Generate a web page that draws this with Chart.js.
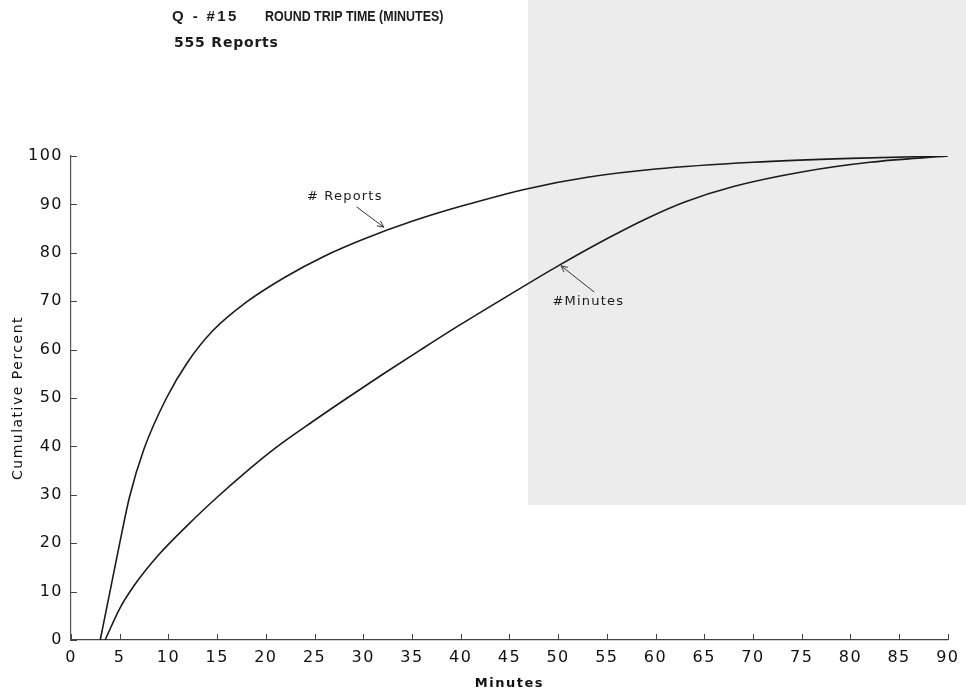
<!DOCTYPE html>
<html>
<head>
<meta charset="utf-8">
<title>Round Trip Time</title>
<script src="https://cdn.jsdelivr.net/npm/chart.js@4.4.0/dist/chart.umd.min.js"></script>
<style>
    html, body { margin: 0; padding: 0; background: #fff; }
    #wrap { position: relative; width: 966px; height: 691px; }
</style>
</head>
<body>
<div id="wrap"><canvas id="trip-chart" width="966" height="691"></canvas></div>
<script>
// values
const chartCode = 'Q - #15';
const chartTitle = 'ROUND TRIP TIME (MINUTES)';
const chartSubtitle = '555 Reports';

const reportsMinutes = [3.0, 4.0, 5.0, 6.0, 7.5, 9.8, 12.0, 14.5, 18.0, 22.0, 26.0, 30.0, 35.0, 40.0, 47.0, 53.0, 60.0, 70.0, 80.0, 90.0];
const reportsPercent = [0, 10.0, 20.0, 29.5, 39.5, 50.0, 57.5, 63.8, 69.8, 75.0, 79.3, 82.8, 86.5, 89.6, 93.3, 95.6, 97.3, 98.7, 99.5, 100];

const minutesMinutes = [3.5, 5.0, 6.5, 9.0, 12.0, 15.0, 18.0, 21.0, 25.0, 28.5, 32.0, 36.0, 40.0, 45.0, 50.0, 55.0, 59.0, 63.0, 68.0, 75.0, 82.0, 90.0];
const minutesPercent = [0, 6.5, 11.3, 17.6, 23.8, 29.5, 34.8, 39.7, 45.4, 50.2, 54.9, 60.1, 65.2, 71.3, 77.3, 82.9, 87.0, 90.5, 93.7, 96.7, 98.7, 100];

const xTickStep = 5;
const yTickStep = 10;

function toPoints(xs, ys) {
    return xs.map((x, i) => ({ x: x, y: ys[i] }));
}

const inkColor = '#1b1b1b';

// labels with a small arrow pointing at each curve (data coordinates)
const callouts = [
    { text: '# Reports', at: [28.1, 91.7], from: [29.3, 89.5], to: [32.1, 85.3] },
    { text: '#Minutes', at: [53.1, 70.0], from: [53.7, 71.9], to: [50.3, 77.3] }
];

const paperPlugin = {
    id: 'paper',
    beforeDraw(chart) {
        const ctx = chart.ctx;
        ctx.save();
        ctx.fillStyle = '#ffffff';
        ctx.fillRect(0, 0, chart.width, chart.height);
        // grey stippled patch from the scan
        ctx.fillStyle = '#ececec';
        ctx.fillRect(528, 0, chart.width - 528, 505);
        ctx.restore();
        ctx.letterSpacing = '1.5px';
    },
    afterDraw(chart) {
        const ctx = chart.ctx;
        const xs = chart.scales.x;
        const ys = chart.scales.y;
        ctx.save();
        ctx.letterSpacing = '0px';
        ctx.strokeStyle = '#444';
        ctx.lineWidth = 1;
        // inward tick marks
        xs.ticks.forEach(t => {
            const px = Math.round(xs.getPixelForValue(t.value)) + 0.5;
            ctx.beginPath();
            ctx.moveTo(px, ys.bottom);
            ctx.lineTo(px, ys.bottom - 6);
            ctx.stroke();
        });
        ys.ticks.forEach(t => {
            const py = Math.round(ys.getPixelForValue(t.value)) + 0.5;
            ctx.beginPath();
            ctx.moveTo(xs.left, py);
            ctx.lineTo(xs.left + 6, py);
            ctx.stroke();
        });

        // callouts
        ctx.fillStyle = inkColor;
        ctx.strokeStyle = '#333';
        ctx.font = '13px "DejaVu Sans"';
        ctx.letterSpacing = '1.2px';
        ctx.textAlign = 'center';
        ctx.textBaseline = 'middle';
        callouts.forEach(c => {
            ctx.fillText(c.text, xs.getPixelForValue(c.at[0]), ys.getPixelForValue(c.at[1]));
            const x1 = xs.getPixelForValue(c.from[0]);
            const y1 = ys.getPixelForValue(c.from[1]);
            const x2 = xs.getPixelForValue(c.to[0]);
            const y2 = ys.getPixelForValue(c.to[1]);
            ctx.beginPath();
            ctx.moveTo(x1, y1);
            ctx.lineTo(x2, y2);
            const ang = Math.atan2(y2 - y1, x2 - x1);
            const len = 7;
            ctx.moveTo(x2, y2);
            ctx.lineTo(x2 - len * Math.cos(ang - 0.45), y2 - len * Math.sin(ang - 0.45));
            ctx.moveTo(x2, y2);
            ctx.lineTo(x2 - len * Math.cos(ang + 0.45), y2 - len * Math.sin(ang + 0.45));
            ctx.stroke();
        });

        // heading
        ctx.textAlign = 'left';
        ctx.textBaseline = 'middle';
        ctx.font = 'bold 15px "Liberation Sans"';
        ctx.letterSpacing = '2.4px';
        ctx.fillText(chartCode, 172, 17);
        ctx.letterSpacing = '0px';
        ctx.save();
        ctx.translate(265, 17);
        ctx.scale(0.83, 1);
        ctx.fillText(chartTitle, 0, 0);
        ctx.restore();
        ctx.font = 'bold 14px "DejaVu Sans"';
        ctx.letterSpacing = '0.8px';
        ctx.fillText(chartSubtitle, 174, 43);
        ctx.restore();
    }
};

const tripCtx = document.getElementById('trip-chart').getContext('2d');

window.tripChart = new Chart(tripCtx, {
    type: 'line',
    data: {
        datasets: [
            {
                label: '# Reports',
                data: toPoints(reportsMinutes, reportsPercent),
                borderColor: inkColor,
                borderWidth: 1.6,
                pointRadius: 0,
                fill: false,
                cubicInterpolationMode: 'monotone'
            },
            {
                label: '#Minutes',
                data: toPoints(minutesMinutes, minutesPercent),
                borderColor: inkColor,
                borderWidth: 1.6,
                pointRadius: 0,
                fill: false,
                cubicInterpolationMode: 'monotone'
            }
        ]
    },
    options: {
        responsive: false,
        devicePixelRatio: 1,
        animation: false,
        layout: {
            padding: { top: 156, right: 14, bottom: 0, left: 0 }
        },
        plugins: {
            legend: { display: false },
            tooltip: { enabled: false },
            title: { display: false }
        },
        scales: {
            x: {
                type: 'linear',
                min: 0,
                max: 90,
                grid: { display: false, drawTicks: false },
                border: { display: true, color: '#444', width: 1.2 },
                ticks: {
                    stepSize: xTickStep,
                    maxRotation: 0,
                    autoSkip: false,
                    padding: 8,
                    color: '#111',
                    font: { family: 'DejaVu Sans', size: 16 }
                },
                title: {
                    display: true,
                    text: 'Minutes',
                    color: '#111',
                    padding: { top: 0, bottom: 0 },
                    font: { family: 'DejaVu Sans', size: 13, weight: 'bold' }
                },
                afterFit(scale) { scale.height = 51; }
            },
            y: {
                min: 0,
                max: 100,
                grid: { display: false, drawTicks: false },
                border: { display: true, color: '#555', width: 1.2 },
                ticks: {
                    stepSize: yTickStep,
                    padding: 8,
                    color: '#111',
                    font: { family: 'DejaVu Sans', size: 16 }
                },
                title: {
                    display: true,
                    text: 'Cumulative Percent',
                    color: '#111',
                    padding: { top: 10, bottom: 0 },
                    font: { family: 'DejaVu Sans', size: 14 }
                },
                afterFit(scale) { scale.width = 71; }
            }
        }
    },
    plugins: [paperPlugin]
});
</script>
</body>
</html>
